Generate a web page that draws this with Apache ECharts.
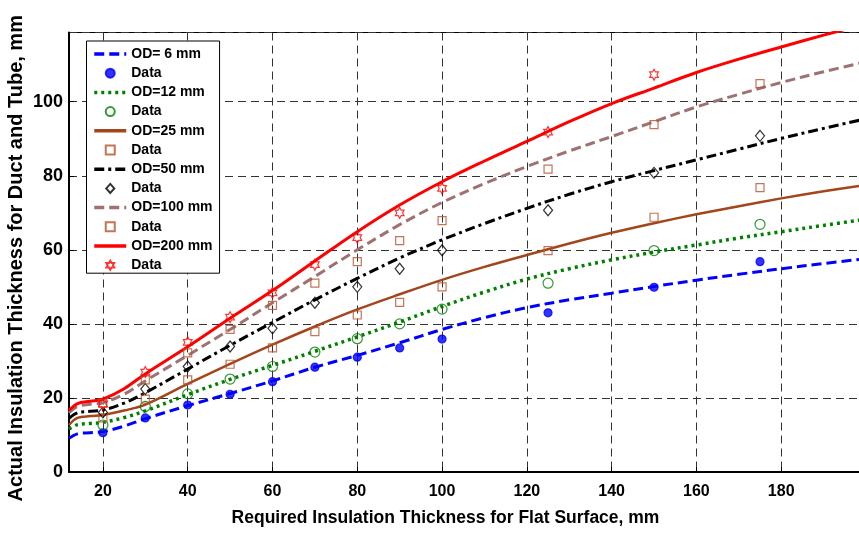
<!DOCTYPE html>
<html>
<head>
<meta charset="utf-8">
<script src="https://cdn.jsdelivr.net/npm/echarts@6/dist/echarts.min.js"></script>
<style>
  html, body { margin: 0; padding: 0; background: #fff; }
  #chart { width: 859px; height: 543px; }
</style>
</head>
<body>
<div id="chart"></div>
<script>
// fitted curves, sampled along the flat-surface thickness
const curveX = [12, 14, 17, 20, 25, 30, 40, 50, 60, 70, 80, 90, 100, 110, 120, 130, 140, 150, 160, 170, 180, 190, 200];
const od6Curve = [9.1, 10.3, 10.6, 10.9, 12.4, 14.4, 17.9, 21.2, 24.6, 28.3, 31.5, 34.9, 38.5, 41.7, 44.4, 46.5, 48.3, 50.1, 51.8, 53.4, 54.9, 56.3, 57.6];
const od12Curve = [11.6, 12.8, 13.1, 13.4, 14.7, 16.5, 20.9, 25.0, 28.8, 32.6, 36.5, 40.5, 44.7, 48.6, 52.1, 54.9, 57.3, 59.4, 61.3, 63.2, 64.9, 66.6, 68.3];
const od25Curve = [12.7, 14.6, 15.1, 15.4, 16.6, 18.2, 23.8, 29.2, 34.4, 39.3, 43.9, 48.0, 51.9, 55.4, 58.6, 61.7, 64.6, 67.2, 69.6, 71.8, 73.9, 75.8, 77.5];
const od50Curve = [14.5, 16.0, 16.4, 16.7, 18.6, 21.4, 27.8, 34.2, 40.4, 46.5, 52.3, 57.8, 62.7, 67.1, 71.2, 75.0, 78.4, 81.4, 84.3, 87.2, 90.1, 92.8, 95.4];
const od100Curve = [16.0, 17.7, 18.3, 18.7, 21.0, 24.6, 31.5, 38.5, 45.7, 52.8, 60.0, 66.8, 72.8, 77.9, 82.5, 86.7, 90.6, 94.6, 98.6, 102.0, 105.2, 108.1, 110.8];
const od200Curve = [16.6, 18.5, 19.1, 19.7, 22.5, 26.5, 33.8, 41.5, 49.0, 57.0, 64.9, 72.1, 78.4, 84.0, 89.3, 94.6, 99.5, 103.7, 107.9, 111.5, 114.8, 118.0, 121.0];

// measured points
const dataX = [20, 30, 40, 50, 60, 70, 80, 90, 100, 125, 150, 175];
const od6Data = [10.6, 14.6, 18.1, 21.0, 24.4, 28.3, 31.0, 33.5, 35.9, 43.0, 49.9, 56.8];
const od12Data = [12.7, 17.7, 21.1, 25.1, 28.5, 32.4, 36.0, 40.0, 44.0, 51.0, 59.8, 66.9];
const od25Data = [14.6, 19.7, 24.9, 29.1, 33.5, 37.9, 42.4, 45.8, 50.0, 59.8, 68.8, 76.8];
const od50Data = [16.1, 22.4, 28.5, 33.9, 38.8, 45.7, 50.0, 54.9, 59.9, 70.7, 80.8, 90.8];
const od100Data = [18.5, 24.9, 32.2, 38.5, 45.0, 51.0, 56.8, 62.5, 67.9, 81.8, 93.8, 104.9];
const od200Data = [18.4, 27.0, 35.0, 41.8, 48.4, 56.0, 63.3, 70.0, 76.6, 91.8, 107.3, null];

const xTicks = [20, 40, 60, 80, 100, 120, 140, 160, 180];

const FONT = '"Liberation Sans", Arial, sans-serif';
const hexagram = 'path://M0,-1L0.289,-0.5L0.866,-0.5L0.577,0L0.866,0.5L0.289,0.5L0,1L-0.289,0.5L-0.866,0.5L-0.577,0L-0.866,-0.5L-0.289,-0.5Z';
const square = 'path://M0,0L1,0L1,1L0,1Z';
const diamond = 'path://M0,-5L4.5,0L0,5L-4.5,0Z';
const squareColor = '#b5532a';
const clear = 'rgba(0,0,0,0)';

const pairs = (xs, ys) => xs.map((x, i) => [x, ys[i]]).filter(p => p[1] != null);

// itemStyle is transparent so the legend shows only the line sample
const lineSeries = (name, ys, color, type, width) => ({
  name,
  type: 'line',
  data: pairs(curveX, ys),
  smooth: 0.35,
  symbol: 'none',
  lineStyle: { color, type, width, cap: 'butt' },
  itemStyle: { color: clear, borderColor: clear, borderWidth: 0 },
  z: 2
});

const markSeries = (name, ys, symbol, size, fill, stroke) => ({
  name,
  type: 'scatter',
  data: pairs(dataX, ys),
  symbol,
  symbolSize: size,
  symbolKeepAspect: true,
  itemStyle: { color: fill, borderColor: stroke, borderWidth: 1.2 },
  z: 3
});

const series = [
  lineSeries('OD= 6 mm', od6Curve, '#0000ff', [10, 5], 3),
  markSeries('Data6', od6Data, 'circle', 8, '#0000ff', '#0000ff'),
  lineSeries('OD=12 mm', od12Curve, '#008000', [3, 4], 3.5),
  markSeries('Data12', od12Data, 'circle', 10, clear, '#008000'),
  lineSeries('OD=25 mm', od25Curve, '#a3461c', 'solid', 2.5),
  markSeries('Data25', od25Data, square, 8, clear, squareColor),
  lineSeries('OD=50 mm', od50Curve, '#000000', [10, 4, 3, 4], 3),
  markSeries('Data50', od50Data, diamond, [10, 11], clear, '#000000'),
  lineSeries('OD=100 mm', od100Curve, '#9e7272', [10, 5], 3),
  markSeries('Data100', od100Data, square, 8, clear, squareColor),
  lineSeries('OD=200 mm', od200Curve, '#ff0000', 'solid', 3),
  markSeries('Data200', od200Data, hexagram, [10, 11], clear, '#ff0000')
];

const chart = echarts.init(document.getElementById('chart'), null, { renderer: 'canvas' });

chart.setOption({
  animation: false,
  backgroundColor: '#fff',
  grid: {
    left: 69,
    right: -7,
    top: 32.5,
    bottom: 71,
    outerBoundsMode: 'none',
    show: true,
    borderColor: '#000',
    borderWidth: 1
  },
  legend: {
    orient: 'vertical',
    left: 86.5,
    top: 41,
    padding: [6, 7, 1, 6],
    itemWidth: 32,
    itemHeight: 9,
    itemGap: 5.2,
    borderColor: '#000',
    borderWidth: 1,
    backgroundColor: '#fff',
    selectedMode: false,
    symbolKeepAspect: true,
    lineStyle: { width: 3.5 },
    data: series.map(s => s.name),
    formatter: name => (name.startsWith('Data') ? 'Data' : name),
    textStyle: { fontFamily: FONT, fontSize: 14, fontWeight: 'bold', color: '#000' }
  },
  xAxis: {
    type: 'value',
    min: 12,
    max: 200,
    name: 'Required Insulation Thickness for Flat Surface, mm',
    nameLocation: 'middle',
    nameGap: 37,
    nameMoveOverlap: false,
    nameTextStyle: { fontFamily: FONT, fontSize: 17.5, fontWeight: 'bold', color: '#000', padding: [0, 44, 0, 0] },
    axisLine: { show: true, onZero: false, lineStyle: { color: '#000', width: 2 } },
    axisTick: { show: true, inside: true, length: 5, customValues: xTicks, lineStyle: { color: '#000' } },
    axisLabel: { customValues: xTicks, margin: 12, fontFamily: FONT, fontSize: 16, fontWeight: 'bold', color: '#000' },
    splitLine: { show: true, lineStyle: { color: '#333', type: [8, 5], width: 1 } }
  },
  yAxis: {
    type: 'value',
    min: 0,
    max: 118.7,
    interval: 20,
    name: 'Actual Insulation Thickness for Duct and Tube, mm',
    nameLocation: 'middle',
    nameGap: 43,
    nameMoveOverlap: false,
    nameTextStyle: { fontFamily: FONT, fontSize: 20, fontWeight: 'bold', color: '#000', padding: [0, 12, 0, 0] },
    axisLine: { show: true, lineStyle: { color: '#000', width: 2 } },
    axisTick: { show: true, inside: true, length: 5, lineStyle: { color: '#000' } },
    axisLabel: { showMaxLabel: false, margin: 6, fontFamily: FONT, fontSize: 18, fontWeight: 'bold', color: '#000' },
    splitLine: { show: true, lineStyle: { color: '#333', type: [8, 5], width: 1 } }
  },
  series
});
</script>
</body>
</html>
